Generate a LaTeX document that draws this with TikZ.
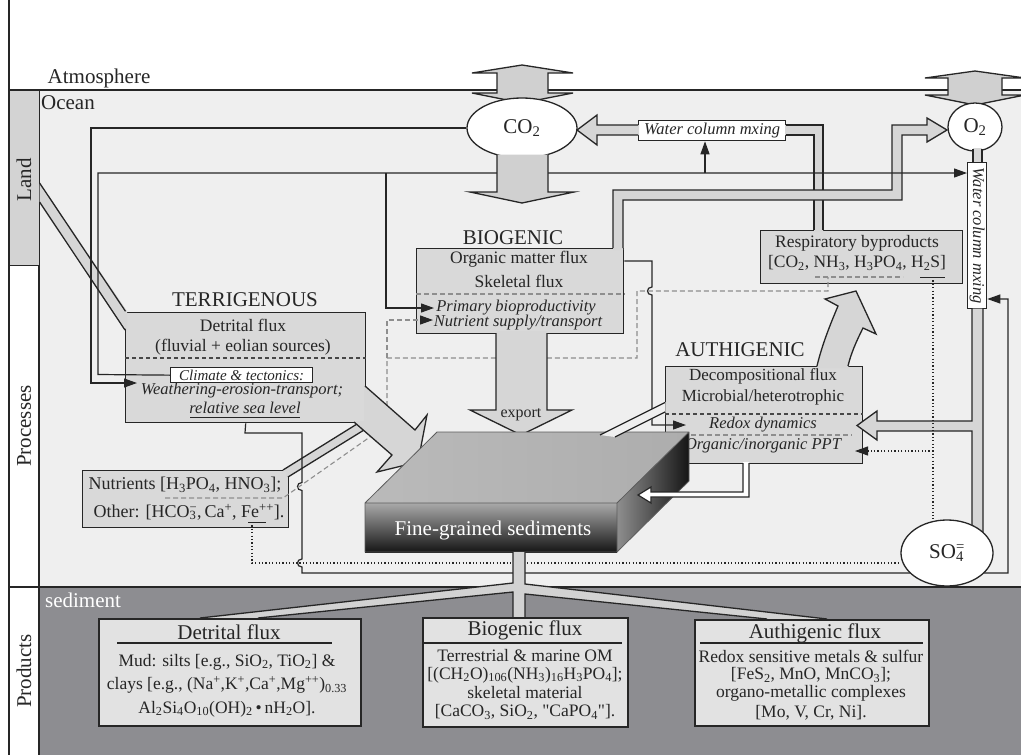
\documentclass[tikz,border=0pt]{standalone}
\usepackage{fontspec}
\setmainfont{Liberation Serif}[Ligatures=TeXOff]
\usetikzlibrary{arrows.meta,calc,shapes.geometric}
\pgfdeclarelayer{backdrop}
\pgfdeclarelayer{toplayer}
\pgfsetlayers{backdrop,main,toplayer}

\definecolor{ocean}{HTML}{EFEFEF}
\definecolor{sedgray}{HTML}{8D8D91}
\definecolor{landgray}{HTML}{D3D3D3}
\definecolor{panelgray}{HTML}{D9D9D9}
\definecolor{bandgray}{HTML}{D6D6D6}
\definecolor{stemgray}{HTML}{D2D2D2}
\definecolor{prodgray}{HTML}{E2E2E2}
\definecolor{dashgray}{HTML}{8E8E8E}
\definecolor{ink}{HTML}{262626}
\definecolor{gasarrow}{HTML}{D0D0D0}
\definecolor{slabA}{HTML}{BABABA}
\definecolor{slabB}{HTML}{ADADAD}
\definecolor{slabhi}{HTML}{A8A8A8}
\definecolor{slablo}{HTML}{151515}
\definecolor{sidehi}{HTML}{8E8E8E}

\newcommand\pxf[1]{\fontsize{#1}{#1}\selectfont}
\newcommand\sbs[1]{\textsubscript{#1}}
\newcommand\sps[1]{\textsuperscript{#1}}
\newcommand\sbsp[2]{\rlap{\textsubscript{#1}}\textsuperscript{#2}}

\tikzset{
  frame/.style={draw=ink, line width=1.3pt},
  conn/.style={draw=ink, line width=1.2pt},
  arr/.style={-{Triangle[length=13pt,width=9pt,color=ink]}},
  gdash/.style={draw=dashgray, line width=1.1pt, dash pattern=on 5pt off 3pt},
  kdash/.style={draw=ink!85, line width=1.1pt, dash pattern=on 4pt off 3pt},
  dots/.style={draw=ink, line width=1.1pt, dash pattern=on 1.2pt off 2.2pt},
  outline/.style={draw=ink, line width=1.3pt},
  panel/.style={draw=ink, line width=1.4pt, fill=panelgray, inner sep=0pt, anchor=north west},
  wbox/.style={draw=ink, line width=1.3pt, fill=white, inner sep=0pt, anchor=north west},
  pbox/.style={draw=ink, line width=1.6pt, fill=prodgray, inner sep=0pt, anchor=north west},
  txt/.style={inner sep=0pt, text=ink, font=\pxf{17.5}},
  ttl/.style={inner sep=0pt, text=ink, font=\pxf{21}},
  itx/.style={inner sep=0pt, text=ink, font=\pxf{16.5}\itshape},
  gas/.style={ellipse, draw=ink, line width=1.3pt, fill=white, inner sep=0pt, font=\pxf{21}, text=ink},
}

\begin{document}
\begin{tikzpicture}[x=1pt,y=-1pt]
\useasboundingbox (0,0) rectangle (1021,755);

% ---------- regions ----------
\begin{pgfonlayer}{backdrop}
\fill[white] (0,0) rectangle (1021,755);
\fill[ocean] (39,90) rectangle (1021,587);
\fill[sedgray] (39,587) rectangle (1021,755);
\draw[frame] (9,0) -- (9,755) (39,90) -- (39,755) (9,90) -- (1021,90) (9,587) -- (1021,587);
\end{pgfonlayer}

\node[draw=ink, line width=1.3pt, fill=landgray, minimum width=30pt, minimum height=175pt,
      inner sep=0pt, anchor=north west] (land) at (9,90) {};
\node[ttl] (atmT) at (99,78) {Atmosphere};
\node[ttl] (oceanT) at (68,103) {Ocean};
\node[ttl, rotate=90] (landT) at (24,180) {Land};
\node[ttl, rotate=90] (procT) at (24,426) {Processes};
\node[ttl, rotate=90] (prodT) at (24,671) {Products};
\node[ttl, text=white] (sedT) at (83,600) {sediment};

% ---------- process panels ----------
\node[panel, minimum width=240pt, minimum height=110pt] (terr) at (125,312) {};
\node[panel, minimum width=207pt, minimum height=85pt] (bio) at (416,248) {};
\node[panel, minimum width=197pt, minimum height=97pt] (auth) at (665,366) {};
\node[panel, minimum width=202pt, minimum height=53pt] (resp) at (760,230) {};
\node[panel, minimum width=206pt, minimum height=57pt] (nutr) at (82,470) {};
\node[wbox, minimum width=147pt, minimum height=20pt] (wch) at (638,120) {};
\node[wbox, minimum width=19pt, minimum height=146pt] (wcv) at (967,162) {};
\node[wbox, minimum width=142pt, minimum height=15pt] (clim) at (170,367) {};

\draw[kdash] (terr.west |- 0,358) -- (terr.east |- 0,358);
\draw[gdash] (bio.west |- 0,294) -- (bio.east |- 0,294);
\draw[kdash] (auth.west |- 0,414) -- (auth.east |- 0,414);
\draw[gdash] (667,435) -- (852,435);

% ---------- gas reservoirs ----------
\filldraw[fill=gasarrow, outline] (497,73) -- (472,73) -- (522,65) -- (573,73) -- (548,73) -- (548,93)
  -- (573,93) -- (522,103) -- (472,93) -- (497,93) -- cycle;
\filldraw[fill=gasarrow, outline] (948,78) -- (925,78) -- (975,71) -- (1025,78) -- (1002,78) -- (1002,95)
  -- (1025,95) -- (975,105) -- (925,95) -- (948,95) -- cycle;
\node[gas, minimum width=110pt, minimum height=60pt] (co2) at (522,128) {CO\sbs{2}};
\node[gas, minimum width=54pt, minimum height=48pt] (o2) at (975,127) {O\sbs{2}};
\begin{pgfonlayer}{toplayer}
\node[gas, minimum width=92pt, minimum height=66pt] (so4) at (947,553) {SO\sbsp{4}{=}};
\end{pgfonlayer}

% ---------- broad flux bands ----------
% respiratory byproducts -> water column mixing
\fill[bandgray] (814,232) -- (814,135) -- (785,135) -- (785,125) -- (823,125) -- (823,232) -- cycle;
\draw[outline] (814,230) -- (814,135) -- (785.5,135) (785.5,125) -- (823,125) -- (823,230);
% water column mixing -> CO2
\fill[bandgray] (639,125) -- (597,125) -- (597,115) -- (577,130) -- (597,145) -- (597,135) -- (639,135) -- cycle;
\draw[outline] (638,125) -- (597,125) -- (597,115) -- (577,130) -- (597,145) -- (597,135) -- (638,135);
% biogenic -> O2
\fill[bandgray] (613,250) -- (613,190) -- (892,190) -- (892,125) -- (927,125) -- (927,118) -- (947,130)
  -- (927,142) -- (927,135) -- (902,135) -- (902,200) -- (623,200) -- (623,250) -- cycle;
\draw[outline] (613,248) -- (613,190) -- (892,190) -- (892,125) -- (927,125) -- (927,118) -- (947,130)
  -- (927,142) -- (927,135) -- (902,135) -- (902,200) -- (623,200) -- (623,248);
% O2 -> vertical mixing -> SO4, with branch to authigenic panel
\fill[bandgray] (973,148) rectangle (982,162.3);
\draw[outline] (973,149) -- (973,162) (982,149) -- (982,162);
\fill[bandgray] (972,308.7) -- (972,421) -- (877,421) -- (877,411) -- (857,425.5) -- (877,440) -- (877,431)
  -- (972,431) -- (972,545) -- (983,545) -- (983,308.7) -- cycle;
\draw[outline] (972,308) -- (972,421) -- (877,421) -- (877,411) -- (857,425.5) -- (877,440) -- (877,431)
  -- (972,431) -- (972,545) (983,308) -- (983,545);
% land -> terrigenous
\fill[bandgray] (39.6,183) -- (127,311) -- (127,331) -- (39.6,202) -- cycle;
\draw[outline] (39.6,183) -- (125.5,311.3) (39.6,202) -- (125,330);
% nutrients band
\fill[bandgray] (283,470) -- (357,424) -- (364,430) -- (288,477) -- (286.5,477) -- (286.5,471.5) -- (283,471.5) -- cycle;
\draw[outline] (283,470) -- (357,424) (288,477) -- (364,430);
% authigenic -> respiratory byproducts
\fill[bandgray] (817,368) .. controls (822,345) and (830,325) .. (838,306) -- (825,299) -- (856,291)
  -- (876,334) -- (863,328) .. controls (857,340) and (851,353) .. (848,368) -- cycle;
\draw[outline] (817,366) .. controls (822,345) and (830,325) .. (838,306) -- (825,299) -- (856,291)
  -- (876,334) -- (863,328) .. controls (857,340) and (851,353) .. (848,366);

% ---------- thin connectors ----------
\draw[conn, arr] (co2.west) -- (91,128) -- (91,383) -- (137,383);
\draw[conn, arr] (clim.west) -- (98,374.5) -- (98,173) -- (wcv.west |- 0,173);
\draw[conn, arr] (386,173) -- (386,308) -- (434,308);
\draw[conn, arr] (705,173) -- (wch.south -| 705,0);
\draw[conn, arr] (bio.east |- 0,261) -- (652,261) -- (652,287)
  .. controls (646,287) and (646,295) .. (652,295) -- (652,425) -- (686,425);
\draw[conn, arr] (terr.south) -- (245,433) -- (302,433) -- (302,482.5)
  .. controls (296,482.5) and (296,490.5) .. (302,490.5) -- (302,559)
  .. controls (296,559) and (296,567) .. (302,567) -- (302,573) -- (1008,573) -- (1008,299)
  -- (wcv.east |- 0,299);

\draw[gdash] (165,498) -- (283,498) -- (387,425) -- (387,358) -- (637,358) -- (637,291) -- (828,291) -- (828,277);
\draw[gdash, arr] (387,358) -- (387,320) -- (433,320);
\draw[gdash] (815,277) -- (903,277);

\draw[dots] (252,522) -- (252,563) -- (so4.west |- 0,563);
\draw[dots] (933,277) -- (so4.north -| 933,0);
\draw[dots, arr] (933,451) -- (855,451);

\draw[conn, line width=1pt] (248,522) -- (266,522);
\draw[conn, line width=1pt] (920,277) -- (945,277);
\draw[conn, line width=1pt] (190,417) -- (300,417);

% ---------- panel texts ----------
\node[ttl] (terrT) at (245,300) {TERRIGENOUS};
\node[txt] (terr1) at (243,325) {Detrital flux};
\node[txt] (terr2) at (243,347) {(fluvial + eolian sources)};
\node[itx, font=\pxf{15}\itshape] (climT) at (clim.center) {Climate \& tectonics:};
\node[itx] (terr3) at (242,391) {Weathering-erosion-transport;};
\node[itx] (terr4) at (245,408) {relative sea level};

\node[ttl] (bioT) at (513,238) {BIOGENIC};
\node[txt] (bio1) at (519,259) {Organic matter flux};
\node[txt] (bio2) at (519,281) {Skeletal flux};
\node[itx] (bio3) at (516,308) {Primary bioproductivity};
\node[itx] (bio4) at (518,323) {Nutrient supply/transport};

\node[ttl] (authT) at (740,350) {AUTHIGENIC};
\node[txt, font=\pxf{17}] (auth1) at (763,376) {Decompositional flux};
\node[txt, font=\pxf{17}] (auth2) at (763,397) {Microbial/heterotrophic};
\node[itx] (auth3) at (763,425) {Redox dynamics};
\node[itx] (auth4) at (763,446) {Organic/inorganic PPT};

\node[txt] (resp1) at (857,243) {Respiratory byproducts};
\node[txt] (resp2) at (857,263) {[CO\sbs{2}, NH\sbs{3}, H\sbs{3}PO\sbs{4}, H\sbs{2}S]};

\node[txt, font=\pxf{18}] (nutr1) at (185,485) {Nutrients [H\sbs{3}PO\sbs{4}, HNO\sbs{3}];};
\node[txt, font=\pxf{18}] (nutr2) at (189,512) {Other: [HCO\sbsp{3}{−},\,Ca\sps{+}, Fe\sps{++}].};

\node[itx] (wchT) at (wch.center) {Water column mxing};
\node[itx, rotate=-90] (wcvT) at (wcv.center) {Water column mxing};

% ---------- export and terrigenous arrows ----------
\begin{pgfonlayer}{toplayer}
\fill[gasarrow] (497,154.5) -- (497,192) -- (470,192) -- (522,203) -- (574,192) -- (548,192) -- (548,154.5) -- cycle;
\draw[outline] (497,155) -- (497,192) -- (470,192) -- (522,203) -- (574,192) -- (548,192) -- (548,155);

\fill[bandgray] (496,331) -- (496,410) -- (470,410) -- (521,435) -- (572,410) -- (547,410) -- (547,331) -- cycle;
\draw[outline] (496,333) -- (496,410) -- (470,410) -- (521,435) -- (572,410) -- (547,410) -- (547,333);
\node[txt, font=\pxf{16}] (exportT) at (521,415) {export};

\fill[bandgray] (364,385.1) -- (415,430) -- (427,415) -- (418,462) -- (377,472) -- (392,455) -- (353,421.1)
  -- (364,421.1) -- cycle;
\draw[outline] (365,386) -- (415,430) -- (427,415) -- (418,462) -- (377,472) -- (392,455) -- (354,422);

% ---------- sediment slab ----------
\shade[left color=slabA, right color=slabB] (365,503) -- (617,503) -- (689,432) -- (437,432) -- cycle;
\shade[left color=sidehi, right color=slablo] (617,503) -- (689,432) -- (689,481) -- (617,552) -- cycle;
\node[shade, top color=slabhi, bottom color=slablo, minimum width=252pt, minimum height=49pt,
      inner sep=0pt, anchor=north west] (slab) at (365,503) {};
\draw[ink!75, line width=0.8pt] (365,503) -- (437,432) -- (689,432) -- (689,481) -- (617,552)
  (617,503) -- (689,432) (365,503) rectangle (617,552);
\node[txt, text=white, font=\pxf{21}] (slabT) at (493,530) {Fine-grained sediments};

% authigenic <-> slab
\fill[ocean] (600,435) -- (665.7,402) -- (665.7,412.5) -- (615,437) -- cycle;
\draw[outline, line width=1.2pt] (600,435) -- (665,402.5) (615,437) -- (665,412);
\fill[white] (743,462) -- (743,492) -- (651,492) -- (651,487) -- (638,495) -- (651,503) -- (651,497)
  -- (749,497) -- (749,462) -- cycle;
\draw[outline, line width=1.2pt] (743,463) -- (743,492) -- (651,492) -- (651,487) -- (638,495) -- (651,503)
  -- (651,497) -- (749,497) -- (749,463);

% ---------- products ----------
\fill[stemgray] (513,552) -- (513,583) -- (200,618) -- (258,618) -- (513,592) -- (513,618) -- (525,618)
  -- (525,594) -- (767,619) -- (827,619) -- (525,584) -- (525,552) -- cycle;
\draw[outline] (513,552) -- (513,583) -- (200,618) (258,618) -- (513,592) -- (513,617)
  (525,552) -- (525,584) -- (827,619) (767,619) -- (525,594) -- (525,617);

\node[pbox, minimum width=262pt, minimum height=107pt] (pdet) at (98,618) {};
\node[pbox, minimum width=205pt, minimum height=109pt] (pbio) at (422,617) {};
\node[pbox, minimum width=234pt, minimum height=106pt] (paut) at (694,619) {};
\draw[ink, line width=1.3pt] (117,643) -- (332,643) (423,643) -- (622,643) (700,643) -- (923,643);

\node[ttl] (pdetT) at (229,632) {Detrital flux};
\node[txt] (pdet1) at (227,662) {Mud: silts [e.g., SiO\sbs{2}, TiO\sbs{2}] \&};
\node[txt] (pdet2) at (227,685) {clays [e.g., (Na\sps{+},K\sps{+},Ca\sps{+},Mg\sps{++})\sbs{0.33}};
\node[txt] (pdet3) at (227,709) {Al\sbs{2}Si\sbs{4}O\sbs{10}(OH)\sbs{2}\,•\,nH\sbs{2}O].};

\node[ttl] (pbioT) at (525,630) {Biogenic flux};
\node[txt] (pbio1) at (525,656) {Terrestrial \& marine OM};
\node[txt] (pbio2) at (525,675) {[(CH\sbs{2}O)\sbs{106}(NH\sbs{3})\sbs{16}H\sbs{3}PO\sbs{4}];};
\node[txt] (pbio3) at (525,693) {skeletal material};
\node[txt] (pbio4) at (525,712) {[CaCO\sbs{3}, SiO\sbs{2}, "CaPO\sbs{4}"].};

\node[ttl] (pautT) at (815,633) {Authigenic flux};
\node[txt] (paut1) at (811,656) {Redox sensitive metals \& sulfur};
\node[txt] (paut2) at (811,675) {[FeS\sbs{2}, MnO, MnCO\sbs{3}];};
\node[txt] (paut3) at (811,693) {organo-metallic complexes};
\node[txt] (paut4) at (811,713) {[Mo, V, Cr, Ni].};
\end{pgfonlayer}
\end{tikzpicture}
\end{document}
